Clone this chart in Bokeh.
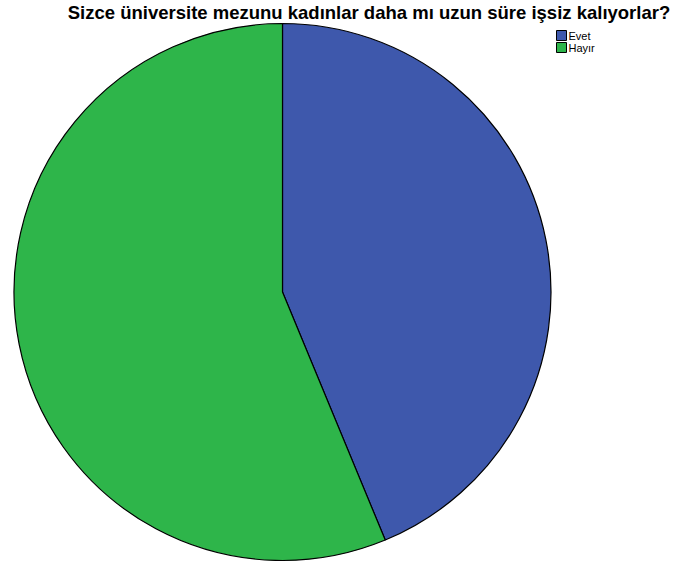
import numpy as np
from bokeh.plotting import figure
from bokeh.models import ColumnDataSource, Range1d
from bokeh.core.properties import value
from bokeh.embed import file_html
from bokeh.resources import INLINE

title = "Sizce üniversite mezunu kadınlar daha mı uzun süre işsiz kalıyorlar?"
categories = ["Evet", "Hayır"]
counts = [35, 45]
colors = ["#3E58AC", "#2EB54A"]

W, H = 676, 566
p = figure(width=W, height=H, output_backend="svg", toolbar_location=None,
           x_range=Range1d(0, W), y_range=Range1d(0, H), min_border=0)
p.axis.visible = False
p.grid.visible = False
p.outline_line_color = None
p.background_fill_color = "white"

total = float(sum(counts))
fracs = np.array(counts) / total
# Start at top (90 deg) going clockwise
ends = np.pi / 2 - np.concatenate([[0], np.cumsum(fracs)[:-1]]) * 2 * np.pi
starts = ends - fracs * 2 * np.pi
src = ColumnDataSource(dict(cat=categories, start=starts, end=ends, color=colors))

cx, cy, r = 282, H - 291.5, 268.5
p.wedge(x=cx, y=cy, radius=r, start_angle="start", end_angle="end",
        fill_color="color", line_color="black", line_width=1.2, source=src)

# Title
p.text(x=[368.5], y=[H - 1], text=[title], text_align="center", text_baseline="top",
       text_font=value("Liberation Sans"), text_font_style="bold", text_font_size="18.5px",
       text_color="black")

# Legend
ly = [H - 35, H - 47]
lsrc = ColumnDataSource(dict(x=[561, 561], y=ly, color=colors, cat=categories,
                             tx=[568, 568]))
p.rect(x="x", y="y", width=10, height=10, fill_color="color", line_color="black",
       line_width=1, source=lsrc)
p.text(x="tx", y="y", text="cat", text_align="left", text_baseline="middle",
       text_font=value("Liberation Sans"), text_font_size="11px", text_color="black",
       source=lsrc)

open("out.html", "w").write(file_html(p, INLINE))
